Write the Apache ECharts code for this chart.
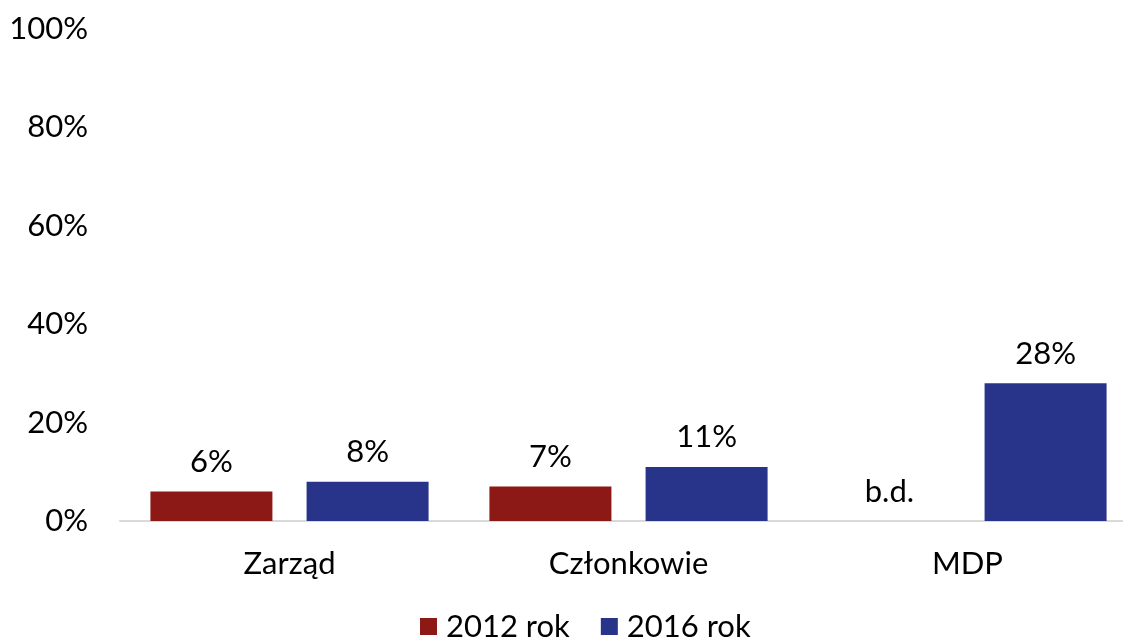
<!DOCTYPE html>
<html>
<head>
<meta charset="utf-8">
<script src="https://cdn.jsdelivr.net/npm/echarts@6/dist/echarts.min.js"></script>
<style>
  html, body { margin: 0; padding: 0; background: #fff; overflow: hidden; width: 1123px; height: 639px; }
  #chart { width: 1137px; height: 639px; }
</style>
</head>
<body>
<div id="chart"></div>
<script>
  var categories = ['Zarząd', 'Członkowie', 'MDP'];
  var values2012 = [6, 7, 0];
  var values2016 = [8, 11, 28];
  var labels2012 = ['6%', '7%', 'b.d.'];
  var labels2016 = ['8%', '11%', '28%'];
  var yTicks = [0, 20, 40, 60, 80, 100];

  var chart = echarts.init(document.getElementById('chart'));
  var font = 'Lato, "Open Sans", sans-serif';
  var option = {
    textStyle: { fontFamily: font },
    legend: {
      top: 606,
      left: 415,
      itemWidth: 17,
      itemHeight: 17,
      itemGap: 31,
      icon: 'rect',
      textStyle: { fontSize: 31, color: '#000', fontFamily: font, padding: [0, 0, 0, 4] }
    },
    // plot area runs slightly past the right edge, as in the original
    grid: { left: 120, right: 0, top: 29, bottom: 118 },
    xAxis: {
      type: 'category',
      data: categories,
      axisLine: { lineStyle: { color: '#d9d9d9', width: 2 } },
      axisTick: { show: false },
      axisLabel: { fontSize: 31, color: '#000', margin: 27, fontFamily: font }
    },
    yAxis: {
      type: 'value',
      min: 0,
      max: 100,
      interval: 20,
      splitLine: { show: false },
      axisLine: { show: false },
      axisTick: { show: false },
      axisLabel: {
        fontSize: 31, color: '#000', margin: 32, fontFamily: font,
        formatter: function (v) { return yTicks.indexOf(v) >= 0 ? v + '%' : ''; }
      }
    },
    series: [
      {
        name: '2012 rok',
        type: 'bar',
        data: values2012,
        barWidth: 122,
        barGap: '28%',
        itemStyle: { color: '#8c1915' },
        label: {
          show: true, position: 'top', distance: 14, fontSize: 31, color: '#000', fontFamily: font,
          formatter: function (p) { return labels2012[p.dataIndex]; }
        }
      },
      {
        name: '2016 rok',
        type: 'bar',
        data: values2016,
        barWidth: 122,
        itemStyle: { color: '#28348a' },
        label: {
          show: true, position: 'top', distance: 14, fontSize: 31, color: '#000', fontFamily: font,
          formatter: function (p) { return labels2016[p.dataIndex]; }
        }
      }
    ]
  };
  chart.setOption(option);
</script>
</body>
</html>
